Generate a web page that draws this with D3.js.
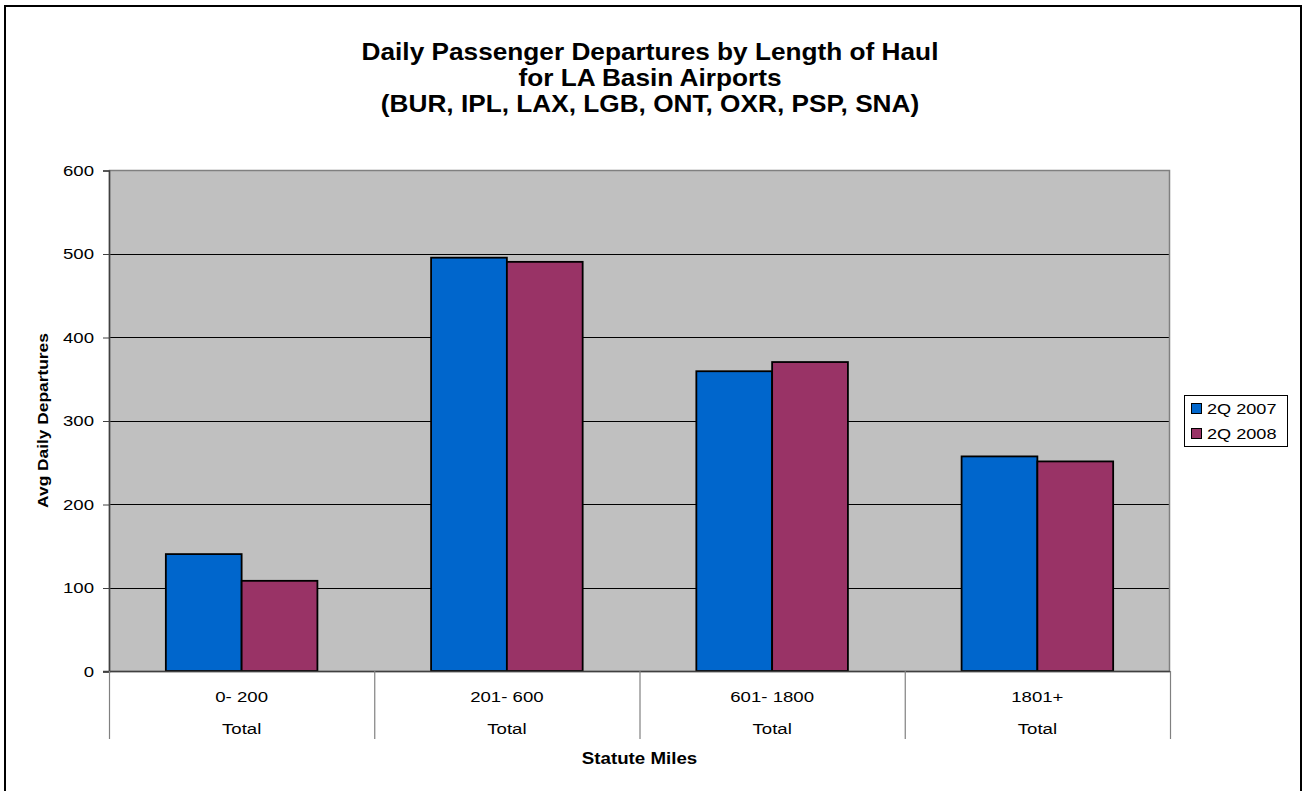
<!DOCTYPE html>
<html><head><meta charset="utf-8">
<script src="https://cdn.jsdelivr.net/npm/d3@7"></script>
<style>body{margin:0;background:#fff;} svg{display:block;font-family:"Liberation Sans",Arial,sans-serif;}</style>
</head><body>
<svg id="chart" width="1306" height="791"></svg>
<script>
const categories = ["0- 200", "201- 600", "601- 1800", "1801+"];
const groupLabel = "Total";
const seriesNames = ["2Q 2007", "2Q 2008"];
const values2007 = [140, 495, 359, 257];
const values2008 = [108, 490, 370, 251];
const yTicks = [0, 100, 200, 300, 400, 500, 600];
const titleLines = ["Daily Passenger Departures by Length of Haul", "for LA Basin Airports", "(BUR, IPL, LAX, LGB, ONT, OXR, PSP, SNA)"];
const colors = ["#0066CC", "#993366"];

const svg = d3.select("#chart");
const L = 109, R = 1170, T = 170, B = 671;

// text helper: horizontally stretched text placed at (x,y)
function stext(parent, x, y, str, size, stretch, anchor, bold, rotate) {
  const t = parent.append("text")
    .attr("transform", `translate(${x},${y})${rotate ? " rotate(" + rotate + ")" : ""} scale(${stretch},1)`)
    .attr("text-anchor", anchor).attr("font-size", size).attr("fill", "#000").text(str);
  if (bold) t.attr("font-weight", "bold");
  return t;
}

svg.append("rect").attr("x", 5).attr("y", 6).attr("width", 1296).attr("height", 800)
  .attr("fill", "#fff").attr("stroke", "#000").attr("stroke-width", 2);

const x0 = d3.scaleBand().domain(categories).range([L, R]).paddingInner(0).paddingOuter(0);
const x1 = d3.scaleBand().domain(seriesNames).range([0, x0.bandwidth()]).paddingInner(0).paddingOuter(0.75);
const y = d3.scaleLinear().domain([0, 600]).range([B, T]);

svg.append("rect").attr("x", L).attr("y", T).attr("width", R - L).attr("height", B - T).attr("fill", "#C0C0C0");

// gridlines
svg.append("g").selectAll("line").data(yTicks.filter(d => d > 0 && d < 600)).join("line")
  .attr("x1", L).attr("x2", R).attr("y1", d => Math.round(y(d)) + 0.5).attr("y2", d => Math.round(y(d)) + 0.5)
  .attr("stroke", "#000").attr("stroke-width", 1);

// plot border
svg.append("rect").attr("x", L + 0.5).attr("y", T + 0.5).attr("width", R - L - 1).attr("height", B - T)
  .attr("fill", "none").attr("stroke", "#808080").attr("stroke-width", 1.5);

// bars
const data = categories.map((c, i) => ({c, vals: [values2007[i], values2008[i]]}));
const g = svg.append("g");
data.forEach(d => {
  d.vals.forEach((v, j) => {
    g.append("rect")
      .attr("x", x0(d.c) + x1(seriesNames[j]))
      .attr("y", y(v))
      .attr("width", x1.bandwidth())
      .attr("height", B - y(v))
      .attr("fill", colors[j]).attr("stroke", "#000").attr("stroke-width", 1.8);
  });
});

// y axis
const yAxis = d3.axisLeft(y).tickValues(yTicks).tickSize(6).tickFormat("");
const ya = svg.append("g").attr("transform", `translate(${L},0.5)`).call(yAxis);
ya.select(".domain").attr("stroke", "#404040").attr("stroke-width", 1.5);
ya.selectAll(".tick line").attr("stroke", "#404040");
const yl = svg.append("g");
yTicks.forEach(t => stext(yl, 94, y(t) + 5.5, d3.format("d")(t), 15.5, 1.2, "end"));

// x axis baseline
svg.append("line").attr("x1", L - 6).attr("x2", R).attr("y1", B + 0.5).attr("y2", B + 0.5).attr("stroke", "#404040").attr("stroke-width", 1.5);

// category dividers
const divs = categories.map(c => x0(c)).concat([R]);
svg.append("g").selectAll("line").data(divs).join("line")
  .attr("x1", d => d + 0.5).attr("x2", d => d + 0.5).attr("y1", B).attr("y2", 739)
  .attr("stroke", "#808080").attr("stroke-width", 1.2);

// category labels
const cl = svg.append("g");
categories.forEach(c => {
  const cx = x0(c) + x0.bandwidth() / 2;
  stext(cl, cx, 702, c, 15.5, 1.2, "middle");
  stext(cl, cx, 734, groupLabel, 15.5, 1.2, "middle");
});

// axis titles
stext(svg, (L + R) / 2, 764, "Statute Miles", 16, 1.17, "middle", true);
stext(svg, 48, (T + B) / 2, "Avg Daily Departures", 15.5, 1.12, "middle", true, -90);

// title
titleLines.forEach((s, i) => stext(svg, 650, 60 + i * 26, s, 23, 1.14, "middle", true));

// legend
const lg = svg.append("g").attr("transform", "translate(1184,395)");
lg.append("rect").attr("x", 0.5).attr("y", 0.5).attr("width", 103).attr("height", 51).attr("fill", "#fff").attr("stroke", "#000").attr("stroke-width", 1);
seriesNames.forEach((s, i) => {
  lg.append("rect").attr("x", 7.5).attr("y", 8.5 + i * 25).attr("width", 10).attr("height", 10)
    .attr("fill", colors[i]).attr("stroke", "#000").attr("stroke-width", 1);
  stext(lg, 23, 19 + i * 25, s, 15.5, 1.17, "start");
});
</script>
</body></html>
